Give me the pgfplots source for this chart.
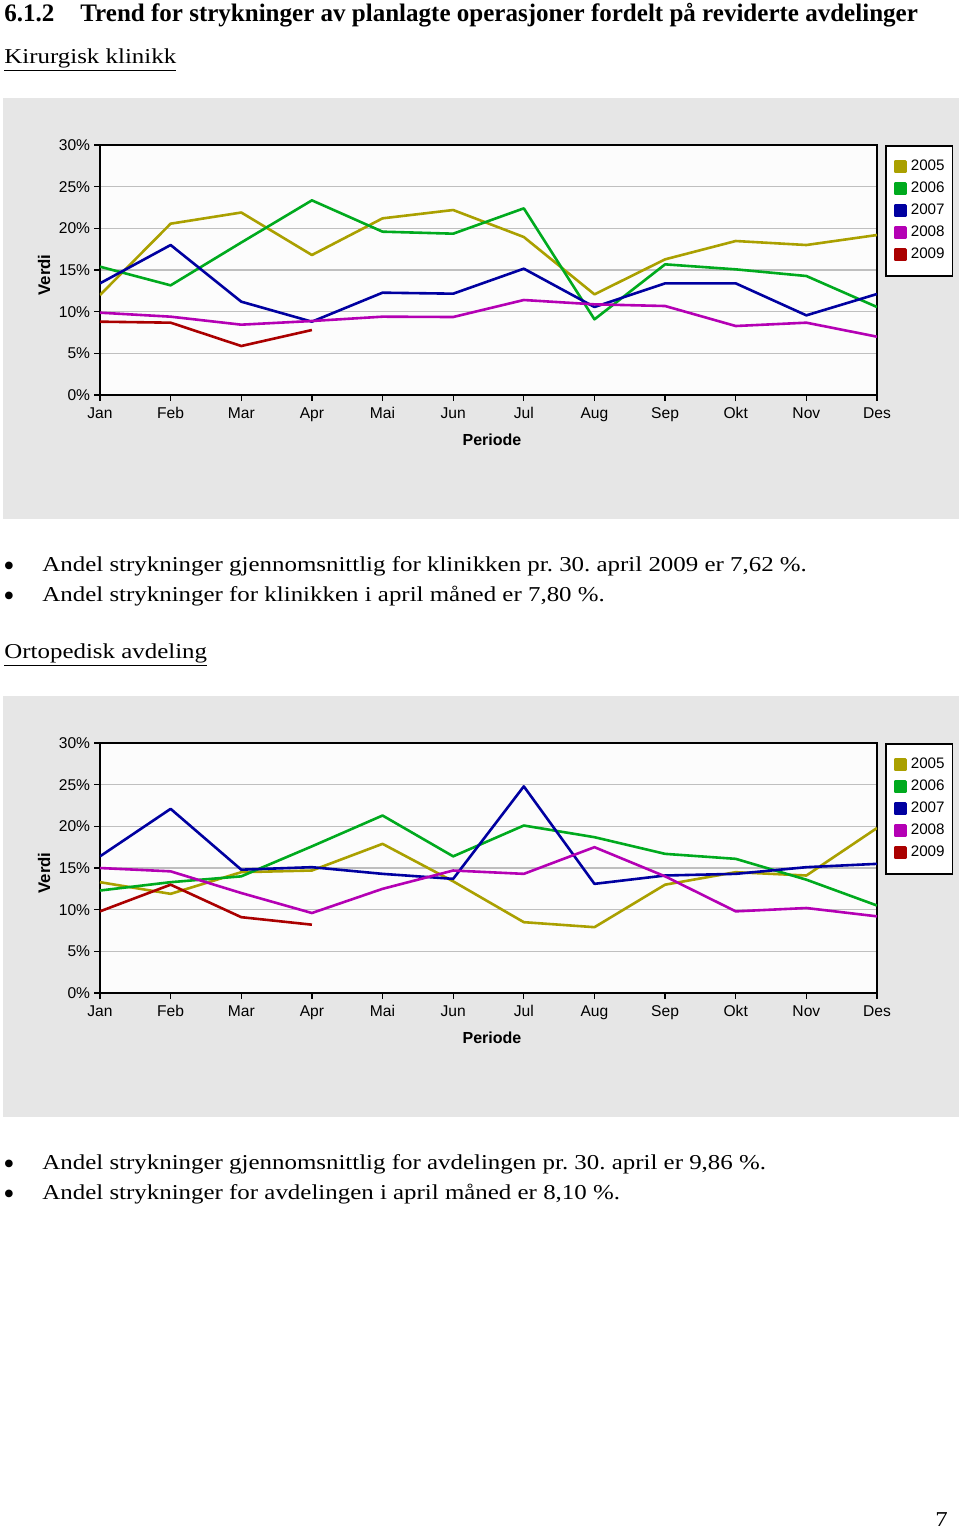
\documentclass[border=0pt]{standalone}
\usepackage{fontspec}
\setmainfont{Liberation Serif}
\setsansfont{Liberation Sans}
\usepackage{pgfplots}
\pgfplotsset{compat=1.18}
\frenchspacing
\definecolor{c05}{RGB}{170,160,0}
\definecolor{c06}{RGB}{0,170,30}
\definecolor{c07}{RGB}{0,0,160}
\definecolor{c08}{RGB}{180,0,180}
\definecolor{c09}{RGB}{170,0,0}
\definecolor{panel}{RGB}{230,230,230}
\pgfplotsset{
 mychart/.style={
  scale only axis, width=388.5pt, height=125pt,
  xmin=0, xmax=11, ymin=0, ymax=30,
  xtick={0,...,11}, xticklabels={Jan,Feb,Mar,Apr,Mai,Jun,Jul,Aug,Sep,Okt,Nov,Des},
  ytick={0,5,...,30}, yticklabels={0\%,5\%,10\%,15\%,20\%,25\%,30\%},
  tick align=outside, xtick pos=lower, ytick pos=left,
  major tick length=2.75pt,
  tick style={black, line width=0.6pt},
  ymajorgrids, grid style={color=black!25, line width=0.6pt},
  axis line style={line width=0.9pt},
  axis background/.style={fill=black!1},
  tick label style={font=\sffamily\fontsize{7.8}{8}\selectfont},
  yticklabel style={inner xsep=2pt},
  xticklabel style={inner ysep=3pt, text height=6pt, text depth=1.6pt},
  every axis plot/.append style={line width=1.3pt, mark=none, line join=round},
  legend image code/.code={\fill[##1] (0pt,-2.6pt) rectangle (5.2pt,2.6pt);},
  legend cell align=left,
  legend style={at={(1.0103,1)}, anchor=north west, draw=black, line width=0.8pt, fill=white,
    font=\sffamily\fontsize{7.6}{8}\selectfont,
    inner xsep=4pt, inner ysep=7pt, row sep=4pt, column sep=2pt,
    nodes={inner sep=0pt, text height=5.5pt, text depth=1.5pt}},
 }
}
\newcommand{\tx}[1]{\scalebox{1.175}[1]{#1}}
\newcommand{\bul}{\fontsize{16}{16}\selectfont\smash{\textbullet}}
\begin{document}
\begin{tikzpicture}
\begin{scope}[x=0.5pt,y=-0.5pt, every node/.style={anchor=base west, inner sep=0pt, font=\fontsize{10.6}{12}\selectfont}]
\useasboundingbox (0,0) rectangle (960,1528);
\fill[panel] (3,98) rectangle (959,519);
\fill[panel] (3,696) rectangle (959,1117);
% heading
\node[font=\fontsize{12.6}{14}\selectfont\bfseries] at (4,21.7) {\scalebox{0.993}[1]{6.1.2}};
\node[font=\fontsize{12.6}{14}\selectfont\bfseries] at (80,21.7) {\scalebox{0.993}[1]{Trend for strykninger av planlagte operasjoner fordelt på reviderte avdelinger}};
\node at (4,63.3) {\tx{\underline{Kirurgisk klinikk}}};
% bullets 1
\node at (3,576) {\bul};
\node at (42,571) {\tx{Andel strykninger gjennomsnittlig for klinikken pr. 30. april 2009 er 7,62 \%.}};
\node at (3,606) {\bul};
\node at (42,601) {\tx{Andel strykninger for klinikken i april måned er 7,80 \%.}};
\node at (4,658.3) {\tx{\underline{Ortopedisk avdeling}}};
% bullets 2
\node at (3,1174) {\bul};
\node at (42,1169) {\tx{Andel strykninger gjennomsnittlig for avdelingen pr. 30. april er 9,86 \%.}};
\node at (3,1204) {\bul};
\node at (42,1199) {\tx{Andel strykninger for avdelingen i april måned er 8,10 \%.}};
\node at (935,1526) {\tx{7}};
% axis labels
\node[anchor=center, rotate=90, font=\sffamily\bfseries\fontsize{8.4}{9}\selectfont] at (44,275) {Verdi};
\node[anchor=center, font=\sffamily\bfseries\fontsize{8}{9}\selectfont] at (492,440) {Periode};
\node[anchor=center, rotate=90, font=\sffamily\bfseries\fontsize{8.4}{9}\selectfont] at (44,873) {Verdi};
\node[anchor=center, font=\sffamily\bfseries\fontsize{8}{9}\selectfont] at (492,1038) {Periode};
\end{scope}
\begin{axis}[mychart, at={(50pt,-197.5pt)}, anchor=south west]
\addplot[c05] coordinates {(0,12.0) (1,20.56) (2,21.9) (3,16.8) (4,21.2) (5,22.2) (6,18.96) (7,12.08) (8,16.28) (9,18.48) (10,18.0) (11,19.2)};
\addlegendentry{2005}
\addplot[c06] coordinates {(0,15.4) (1,13.16) (2,18.3) (3,23.36) (4,19.6) (5,19.36) (6,22.4) (7,9.08) (8,15.68) (9,15.08) (10,14.28) (11,10.56)};
\addlegendentry{2006}
\addplot[c07] coordinates {(0,13.4) (1,18.0) (2,11.2) (3,8.8) (4,12.28) (5,12.16) (6,15.16) (7,10.56) (8,13.4) (9,13.4) (10,9.56) (11,12.12)};
\addlegendentry{2007}
\addplot[c08] coordinates {(0,9.88) (1,9.4) (2,8.44) (3,8.88) (4,9.4) (5,9.36) (6,11.4) (7,10.88) (8,10.68) (9,8.28) (10,8.68) (11,7.0)};
\addlegendentry{2008}
\addplot[c09] coordinates {(0,8.8) (1,8.68) (2,5.88) (3,7.8)};
\addlegendentry{2009}
\end{axis}
\begin{axis}[mychart, at={(50pt,-496.5pt)}, anchor=south west]
\addplot[c05] coordinates {(0,13.3) (1,11.9) (2,14.5) (3,14.7) (4,17.9) (5,13.4) (6,8.5) (7,7.9) (8,13.0) (9,14.5) (10,14.1) (11,19.8)};
\addlegendentry{2005}
\addplot[c06] coordinates {(0,12.3) (1,13.3) (2,14.0) (3,17.6) (4,21.3) (5,16.4) (6,20.1) (7,18.7) (8,16.7) (9,16.1) (10,13.6) (11,10.5)};
\addlegendentry{2006}
\addplot[c07] coordinates {(0,16.4) (1,22.1) (2,14.8) (3,15.1) (4,14.3) (5,13.7) (6,24.8) (7,13.1) (8,14.1) (9,14.3) (10,15.1) (11,15.5)};
\addlegendentry{2007}
\addplot[c08] coordinates {(0,15.0) (1,14.6) (2,12.0) (3,9.6) (4,12.5) (5,14.7) (6,14.3) (7,17.5) (8,14.0) (9,9.8) (10,10.2) (11,9.2)};
\addlegendentry{2008}
\addplot[c09] coordinates {(0,9.8) (1,13.0) (2,9.1) (3,8.2)};
\addlegendentry{2009}
\end{axis}
\end{tikzpicture}
\end{document}
